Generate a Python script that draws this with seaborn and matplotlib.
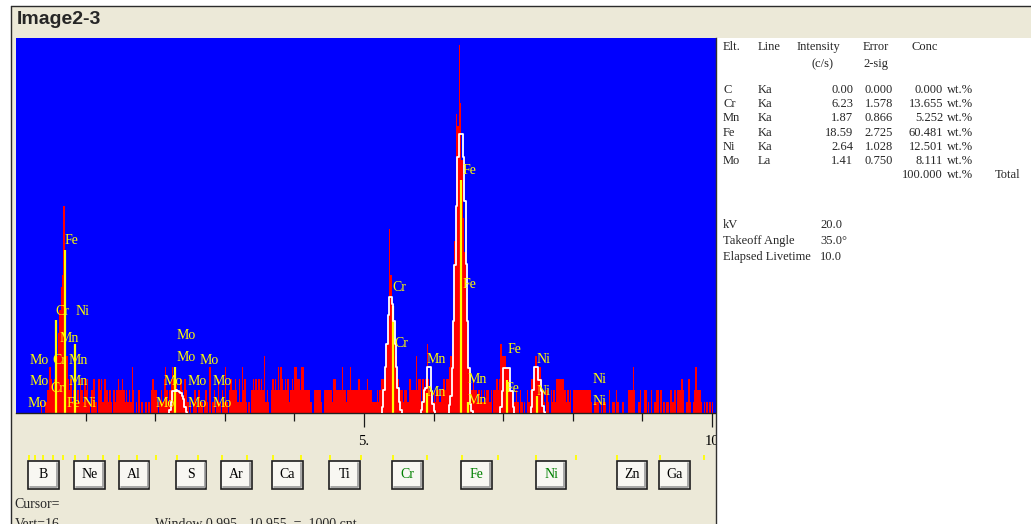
import numpy as np
import pandas as pd
import matplotlib
matplotlib.use("Agg")
import matplotlib.pyplot as plt
import seaborn as sns
from matplotlib.patches import Rectangle
from matplotlib.lines import Line2D

# ---------------- spectrum: counts per 20 eV channel ----------------
CHANNEL_KEV = 0.02
counts_0_1 = [0, 0, 0, 0, 0, 0, 0, 0, 0, 0, 0, 0, 0, 0, 0, 0, 0, 0, 1, 0,
              0, 1, 2, 2, 4, 3, 2, 3, 3, 5, 7, 9, 11, 12, 18, 13, 5, 3, 2, 3,
              1, 2, 3, 1, 2, 1, 3, 2, 1, 3]
counts_1_2 = [2, 3, 1, 0, 2, 3, 3, 1, 0, 3, 2, 3, 1, 3, 3, 2, 1, 2, 1, 0,
              2, 1, 2, 3, 2, 2, 3, 2, 1, 2, 1, 2, 1, 4, 2, 0, 1, 0, 2, 0,
              1, 0, 0, 1, 0, 1, 0, 2, 3, 2]
counts_2_3 = [2, 1, 0, 1, 2, 1, 3, 4, 2, 1, 2, 3, 4, 3, 4, 3, 2, 2, 3, 2,
              1, 3, 2, 1, 0, 1, 0, 1, 2, 1, 0, 2, 1, 1, 0, 1, 2, 1, 0, 4,
              0, 1, 2, 0, 1, 3, 1, 0, 2, 1]
counts_3_4 = [4, 1, 0, 2, 3, 2, 2, 3, 2, 1, 3, 1, 4, 2, 3, 1, 0, 1, 0, 2,
              3, 2, 3, 2, 3, 2, 3, 2, 5, 1, 2, 1, 0, 2, 3, 2, 3, 2, 4, 2,
              4, 3, 2, 3, 2, 3, 1, 2, 3, 2]
counts_4_5 = [4, 4, 3, 3, 2, 4, 4, 2, 2, 2, 2, 1, 1, 0, 2, 2, 2, 2, 2, 1,
              0, 2, 2, 2, 2, 2, 2, 1, 3, 3, 2, 2, 2, 2, 4, 2, 2, 1, 2, 2,
              4, 2, 2, 2, 2, 2, 3, 2, 2, 2]
counts_5_6 = [2, 2, 3, 2, 2, 2, 1, 1, 1, 2, 1, 2, 3, 3, 3, 4, 6, 8, 16, 12,
              9, 8, 5, 5, 3, 2, 2, 2, 1, 2, 2, 1, 3, 3, 2, 2, 2, 5, 2, 3,
              3, 1, 3, 2, 3, 6, 3, 2, 2, 1]
counts_6_7 = [2, 1, 2, 2, 1, 2, 2, 3, 2, 3, 3, 4, 5, 6, 10, 15, 26, 25, 32, 27,
              22, 17, 14, 10, 6, 4, 3, 2, 3, 2, 2, 1, 2, 1, 2, 1, 2, 1, 2, 2,
              1, 2, 0, 2, 2, 3, 2, 3, 6, 5]
counts_7_8 = [5, 5, 4, 4, 3, 2, 2, 1, 1, 2, 1, 0, 2, 1, 0, 1, 0, 2, 1, 2,
              3, 3, 4, 5, 4, 3, 4, 3, 2, 1, 0, 2, 1, 0, 2, 1, 2, 1, 3, 3,
              3, 3, 3, 3, 2, 1, 2, 1, 2, 0]
counts_8_9 = [2, 2, 2, 2, 2, 2, 2, 2, 2, 2, 2, 2, 2, 1, 0, 1, 1, 1, 1, 0,
              1, 0, 1, 1, 0, 0, 2, 0, 1, 1, 0, 2, 1, 0, 0, 1, 1, 0, 0, 0,
              2, 2, 2, 4, 2, 0, 0, 1, 2, 0]
counts_9_10 = [0, 2, 2, 0, 1, 0, 2, 0, 1, 1, 2, 2, 0, 2, 0, 1, 0, 1, 1, 0,
               2, 1, 1, 2, 0, 2, 2, 2, 3, 2, 0, 1, 1, 3, 1, 0, 1, 2, 4, 2,
               2, 2, 1, 0, 1, 0, 1, 0, 1, 0, 1, 0, 0]

# ---------------- fitted peak profiles (first channel, counts) ----------------
fit_mo_l = (2.20, [0.3, 1.0, 1.9, 1.9, 1.9, 2.0, 1.9, 1.8, 1.7, 1.5, 1.2, 0.5, 0.1])
fit_cr_k = (5.26, [0.5, 2.0, 4.0, 6.0, 8.5, 10.1, 10.1, 9.5, 8.0, 6.0, 4.0, 2.2, 1.0, 0.3])
fit_mn_k = (5.82, [0.3, 1.0, 2.0, 2.2, 4.0, 4.0, 4.0, 1.9, 0.8, 0.2])
fit_fe_ka = (6.22, [0.7, 1.5, 3.9, 8.0, 12.9, 18.0, 22.3, 24.3, 24.3, 24.3, 22.3,
                    18.4, 13.0, 8.0, 3.9, 0.8, 0.2])
fit_fe_kb = (6.96, [0.5, 1.9, 3.9, 3.9, 3.9, 3.9, 3.9, 1.9, 1.9, 0.5])
fit_ni_k = (7.40, [0.5, 2.0, 4.0, 4.0, 4.0, 2.9, 2.9, 1.9, 0.6, 0.1])

# ---------------- KLM marker lines (energy, relative height in counts) ----------------
line_kev = [0.57, 0.70, 0.85, 2.29, 5.41, 5.90, 6.40, 6.49, 7.06, 7.48]
line_height = [8.1, 14.2, 6.0, 4.0, 9.3, 1.7, 20.3, 1.0, 2.9, 1.5]

# ---------------- KLM marker labels (stacked in rows) ----------------
label_symbols = ["Fe", "Cr", "Ni", "Mn", "Mo", "Cr", "Mn", "Mo", "Mn", "Cr", "Mo", "Fe", "Ni",
                 "Mo", "Mo", "Mo", "Mo", "Mo", "Mo", "Mo", "Mo", "Mo",
                 "Cr", "Cr", "Mn", "Mn", "Fe", "Fe", "Mn", "Mn", "Fe", "Fe", "Ni", "Ni", "Ni", "Ni"]
label_kev = [0.70, 0.57, 0.85, 0.63, 0.19, 0.52, 0.75, 0.19, 0.75, 0.50, 0.17, 0.73, 0.95,
             2.30, 2.30, 2.63, 2.12, 2.46, 2.83, 2.01, 2.47, 2.83,
             5.41, 5.43, 5.90, 5.90, 6.41, 6.41, 6.49, 6.49, 7.06, 7.04, 7.48, 7.48, 8.28, 8.28]
label_height = [14.4, 8.3, 8.3, 5.9, 4.0, 4.0, 4.0, 2.2, 2.2, 1.6, 0.26, 0.26, 0.26,
                6.2, 4.3, 4.0, 2.2, 2.2, 2.2, 0.26, 0.26, 0.26,
                10.35, 5.5, 4.1, 1.2, 20.5, 10.6, 2.35, 0.5, 4.96, 1.57, 4.1, 1.3, 2.35, 0.43]

# ---------------- quantification table ----------------
elements = ["C", "Cr", "Mn", "Fe", "Ni", "Mo"]
lines = ["Ka", "Ka", "Ka", "Ka", "Ka", "La"]
intensity = [0.00, 6.23, 1.87, 18.59, 2.64, 1.41]
error_2sig = [0.000, 1.578, 0.866, 2.725, 1.028, 0.750]
conc_wt = [0.000, 13.655, 5.252, 60.481, 12.501, 8.111]
conc_total = 100.000
kv = 20.0
takeoff_deg = 35.0
livetime_s = 10.0

# ---------------- element strip ----------------
strip_symbols = ["B", "C", "N", "O", "F", "Ne", "Na", "Mg", "Al", "Si", "P", "S", "Cl", "Ar",
                 "K", "Ca", "Sc", "Ti", "V", "Cr", "Mn", "Fe", "Co", "Ni", "Cu", "Zn", "Ga", "Ge"]
strip_ka = [0.183, 0.277, 0.392, 0.525, 0.677, 0.849, 1.041, 1.254, 1.487, 1.740, 2.013,
            2.307, 2.622, 2.957, 3.313, 3.691, 4.090, 4.510, 4.952, 5.414, 5.898, 6.403,
            6.930, 7.477, 8.047, 8.638, 9.251, 9.885]
button_symbols = ["B", "Ne", "Al", "S", "Ar", "Ca", "Ti", "Cr", "Fe", "Ni", "Zn", "Ga"]
highlighted = ["Cr", "Fe", "Ni"]

axis_tick_kev = [5, 10]
axis_tick_labels = ["5.", "10"]

# ---------------- layout helpers (pixel -> figure fraction) ----------------
W, H = 1031, 524
KEV_PX = 69.6        # pixels per keV on the energy axis
COUNT_PX = 11.5      # pixels per count


def fx(x):
    return x / W


def fy(y):
    return 1 - y / H


sns.set_style("white")
plt.rcParams["font.family"] = ["Liberation Serif", "DejaVu Serif"]

fig = plt.figure(figsize=(W / 100, H / 100), dpi=100, facecolor="white")

# window body and frame
fig.add_artist(Rectangle((fx(10.5), 0), 1 - fx(10.5), fy(5.5), transform=fig.transFigure,
                         facecolor="#ECE9D8", edgecolor="none", zorder=-3))
fig.add_artist(Line2D([fx(10.5), fx(10.5)], [0, fy(5.5)], transform=fig.transFigure,
                      color="#2b2b2b", lw=1.0, zorder=-2))
fig.add_artist(Line2D([fx(10.5), 1], [fy(5.5), fy(5.5)], transform=fig.transFigure,
                      color="#2b2b2b", lw=1.0, zorder=-2))
fig.text(fx(16.5), fy(19), "Image2-3", fontsize=14, fontweight="bold",
         family=["Liberation Sans", "DejaVu Sans"], va="center", ha="left")

# ---------------- spectrum panel ----------------
x0_px, x1_px, ytop_px, ybase_px = 16, 716, 38, 413
ax = fig.add_axes([fx(x0_px), fy(ybase_px), (x1_px - x0_px) / W, (ybase_px - ytop_px) / H])
ax.set_facecolor("#0000FF")

counts = np.concatenate([counts_0_1, counts_1_2, counts_2_3, counts_3_4, counts_4_5,
                         counts_5_6, counts_6_7, counts_7_8, counts_8_9, counts_9_10])
n_ch = len(counts)
spectrum = pd.DataFrame({"kev": (np.arange(n_ch) + 0.5) * CHANNEL_KEV,
                         "counts": counts.astype(float)})

sns.histplot(data=spectrum, x="kev", weights="counts", binwidth=CHANNEL_KEV,
             binrange=(0, n_ch * CHANNEL_KEV), ax=ax, color="#FF0000", alpha=1.0,
             element="bars", fill=True, linewidth=0, stat="count", zorder=1)
for p in ax.patches:
    p.set_antialiased(False)

ax.vlines(line_kev, 0, line_height, colors="#FFFF00", linewidth=1.6, zorder=2)

for start, vals in [fit_mo_l, fit_cr_k, fit_mn_k, fit_fe_ka, fit_fe_kb, fit_ni_k]:
    steps = start + CHANNEL_KEV * np.arange(len(vals) + 1)
    xs = np.r_[start, steps]
    ys = np.r_[0.0, vals, 0.0]
    sns.lineplot(x=xs, y=ys, ax=ax, color="white", linewidth=1.3, drawstyle="steps-post",
                 estimator=None, sort=False, legend=False, zorder=3)

for sym, e, h in zip(label_symbols, label_kev, label_height):
    ax.text(e, h, sym, color="#FFFF00", fontsize=10, ha="left", va="bottom", zorder=4)

ax.set_xlim(0, (x1_px - x0_px) / KEV_PX)
ax.set_ylim(0, (ybase_px - ytop_px) / COUNT_PX)
ax.set_xlabel("")
ax.set_ylabel("")
ax.set_yticks([])
ax.set_xticks(axis_tick_kev)
ax.set_xticklabels(axis_tick_labels)
ax.set_xticks([k for k in range(1, 10) if k not in axis_tick_kev], minor=True)
ax.tick_params(axis="x", which="both", bottom=True, top=False)
ax.tick_params(axis="x", which="major", direction="out", length=10, width=0.9,
               color="#1a1a1a", pad=6, labelsize=10.5, labelcolor="black")
ax.tick_params(axis="x", which="minor", direction="out", length=6, width=0.9,
               color="#1a1a1a")
for side in ["top", "left", "right"]:
    ax.spines[side].set_visible(False)
ax.spines["bottom"].set_color("#202020")
ax.spines["bottom"].set_linewidth(1.0)

# ---------------- element strip with buttons ----------------
strip_top, strip_bot = 452, 492
axb = fig.add_axes([fx(x0_px), fy(strip_bot), (x1_px - x0_px) / W, (strip_bot - strip_top) / H])
axb.set_xlim(ax.get_xlim())
axb.set_ylim(0, 1)
axb.axis("off")
ka_of = dict(zip(strip_symbols, strip_ka))
axb.vlines(strip_ka, 0.80, 0.93, colors="#FFFF00", linewidth=1.3)

px_x = 1 / KEV_PX
px_y = 1 / (strip_bot - strip_top)
btn_w = 30.5 * px_x
btn_b, btn_t = (strip_bot - 489) * px_y, (strip_bot - 461) * px_y
for sym in button_symbols:
    left = ka_of[sym] - 0.6 * px_x
    axb.add_patch(Rectangle((left, btn_b), btn_w, btn_t - btn_b, facecolor="#F8F7F2",
                            edgecolor="#1e1e1e", linewidth=1.2, clip_on=False))
    axb.plot([left + btn_w - 1.8 * px_x, left + btn_w - 1.8 * px_x, left + 1.8 * px_x],
             [btn_t - 1.8 * px_y, btn_b + 1.8 * px_y, btn_b + 1.8 * px_y],
             color="#9a9a9a", linewidth=1.2, clip_on=False)
    axb.text(left + btn_w / 2, (btn_b + btn_t) / 2, sym, ha="center", va="center",
             fontsize=10, color="#008000" if sym in highlighted else "black")

fig.text(fx(14), fy(505), "Cursor=", fontsize=10, va="center", ha="left")
fig.text(fx(15), fy(528), "Vert=16", fontsize=10, va="baseline", ha="left")
fig.text(fx(155), fy(528), "Window 0.995 - 10.955  =  1000 cnt", fontsize=10,
         va="baseline", ha="left")

# ---------------- results panel ----------------
axr = fig.add_axes([fx(715.5), 0, 1 - fx(715.5), fy(ytop_px)])
axr.set_facecolor("white")
axr.set_xticks([])
axr.set_yticks([])
for side in ["top", "bottom", "right"]:
    axr.spines[side].set_visible(False)
axr.spines["left"].set_color("#303030")
axr.spines["left"].set_linewidth(1.0)
axr.set_zorder(5)


def ptext(x, y, s, ha="left"):
    fig.text(fx(x), fy(y), s, ha=ha, va="center", fontsize=9, zorder=6)


ptext(723, 47, "Elt.")
ptext(758, 47, "Line")
ptext(797, 47, "Intensity")
ptext(863, 47, "Error")
ptext(912, 47, "Conc")
ptext(811, 64, "(c/s)")
ptext(863, 64, "2-sig")

row_y0, row_dy = 90, 14.2
for i, (el, ln, it, er, cc) in enumerate(zip(elements, lines, intensity, error_2sig, conc_wt)):
    y = row_y0 + i * row_dy
    ptext(723, y, el)
    ptext(758, y, ln)
    ptext(853, y, f"{it:.2f}", ha="right")
    ptext(893, y, f"{er:.3f}", ha="right")
    ptext(943, y, f"{cc:.3f}", ha="right")
    ptext(947, y, "wt.%")
y_tot = row_y0 + len(elements) * row_dy
ptext(943, y_tot, f"{conc_total:.3f}", ha="right")
ptext(947, y_tot, "wt.%")
ptext(995, y_tot, "Total")

ptext(723, 225, "kV")
ptext(820, 225, f"{kv:.1f}")
ptext(723, 241, "Takeoff Angle")
ptext(820, 241, f"{takeoff_deg:.1f}°")
ptext(723, 257, "Elapsed Livetime")
ptext(820, 257, f"{livetime_s:.1f}")

fig.savefig("out.png", dpi=100, facecolor=fig.get_facecolor())
